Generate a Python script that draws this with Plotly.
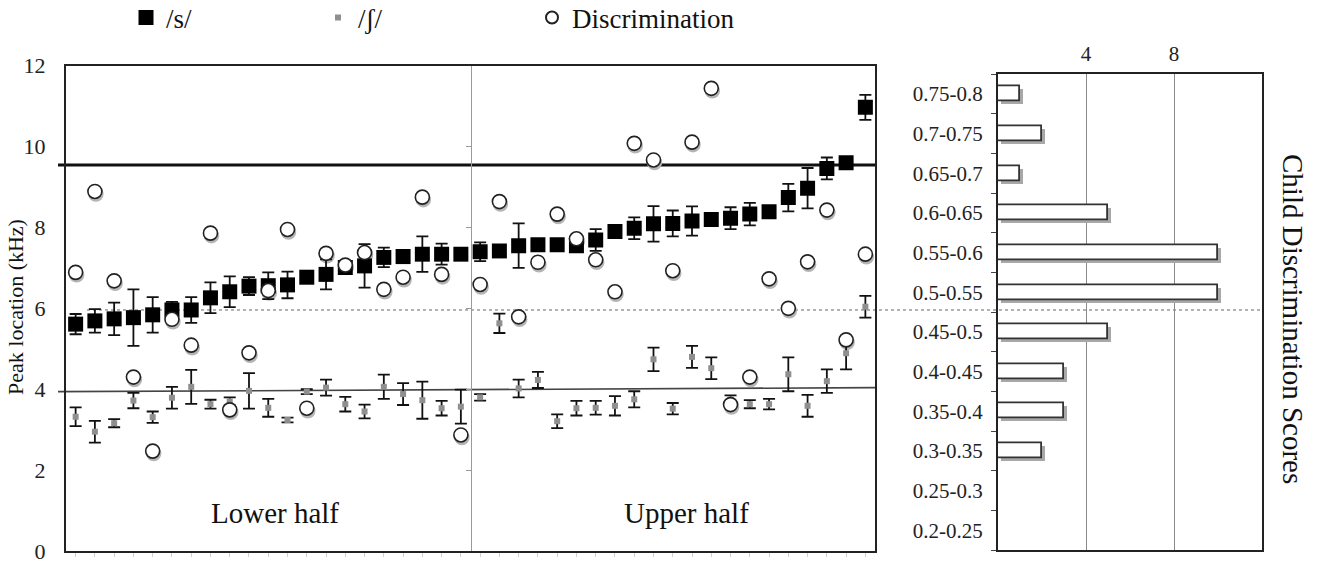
import plotly.graph_objects as go

# ---------------- data ----------------
child_idx = list(range(42))
s_peak = [5.61, 5.69, 5.74, 5.77, 5.84, 5.96, 5.96, 6.26, 6.41, 6.55,
          6.56, 6.58, 6.77, 6.84, 7.01, 7.05, 7.26, 7.28, 7.34, 7.34,
          7.34, 7.40, 7.42, 7.55, 7.57, 7.57, 7.55, 7.69, 7.90, 7.98,
          8.09, 8.10, 8.16, 8.20, 8.23, 8.33, 8.39, 8.74, 8.97, 9.46,
          9.60, 10.97]
s_err = [0.25, 0.29, 0.40, 0.70, 0.44, 0.20, 0.32, 0.38, 0.38, 0.22,
         0.33, 0.33, 0.10, 0.37, 0.10, 0.54, 0.24, 0.10, 0.44, 0.26,
         0.10, 0.23, 0.10, 0.55, 0.10, 0.10, 0.10, 0.27, 0.10, 0.27,
         0.44, 0.32, 0.36, 0.10, 0.27, 0.28, 0.10, 0.34, 0.50, 0.27,
         0.10, 0.31]
sh_peak = [3.32, 2.95, 3.16, 3.72, 3.31, 3.79, 4.06, 3.63, 3.70, 3.96,
           3.54, 3.24, 3.94, 4.04, 3.63, 3.45, 4.06, 3.88, 3.73, 3.53,
           3.57, 3.80, 5.63, 4.02, 4.23, 3.21, 3.53, 3.54, 3.59, 3.75,
           4.74, 3.52, 4.80, 4.52, 3.75, 3.63, 3.63, 4.37, 3.59, 4.20,
           4.89, 6.04]
sh_err = [0.23, 0.27, 0.10, 0.19, 0.14, 0.27, 0.42, 0.11, 0.10, 0.44,
          0.22, 0.06, 0.06, 0.20, 0.18, 0.17, 0.30, 0.27, 0.46, 0.18,
          0.42, 0.08, 0.24, 0.22, 0.20, 0.17, 0.18, 0.17, 0.24, 0.20,
          0.29, 0.14, 0.27, 0.27, 0.10, 0.10, 0.13, 0.42, 0.27, 0.29,
          0.40, 0.27]
discrimination = [6.89, 8.89, 6.68, 4.30, 2.47, 5.73, 5.09, 7.86, 3.49, 4.90,
                  6.44, 7.95, 3.53, 7.36, 7.07, 7.38, 6.47, 6.77, 8.75, 6.84,
                  2.87, 6.59, 8.64, 5.79, 7.14, 8.33, 7.72, 7.20, 6.41, 10.08,
                  9.67, 6.93, 10.11, 11.44, 3.62, 4.30, 6.73, 6.00, 7.15, 8.43,
                  5.22, 7.34]
y_ticks = [0, 2, 4, 6, 8, 10, 12]
half_labels = ["Lower half", "Upper half"]
half_label_x = [10.35, 31.7]
half_label_y = 0.94
thick_line_y = 9.545
sh_line_y = [3.94, 4.04]
dotted_line_y = 5.96

score_bins = ["0.2-0.25", "0.25-0.3", "0.3-0.35", "0.35-0.4", "0.4-0.45",
              "0.45-0.5", "0.5-0.55", "0.55-0.6", "0.6-0.65", "0.65-0.7",
              "0.7-0.75", "0.75-0.8"]
score_counts = [0, 0, 2, 3, 3, 5, 10, 10, 5, 1, 2, 1]
hist_ticks = [4, 8]

# ---------------- geometry ----------------
W, H = 1325, 563
FONT = "Liberation Serif, Times New Roman, serif"
L_x0, L_x1 = 66 / W, 875 / W
L_y0, L_y1 = (H - 551) / H, (H - 65.7) / H
R_x0, R_x1 = 998 / W, 1262 / W
R_y0, R_y1 = (H - 550) / H, (H - 74.3) / H
n = len(child_idx)
px_per_x = (875 - 66) / n
px_per_y = (551 - 65.7) / 12
div_pos = L_x0 + (L_x1 - L_x0) * (n / 2) / n

fig = go.Figure()

# circle shadows (base hidden axes x/y, shifted)
fig.add_trace(go.Scatter(
    x=child_idx, y=discrimination, mode="markers", xaxis="x", yaxis="y",
    marker=dict(symbol="circle", size=15.5, color="#b5b5b5", line=dict(width=0)),
    showlegend=False, hoverinfo="skip"))

# main traces on overlay axes x2/y2
fig.add_trace(go.Scatter(
    x=child_idx, y=s_peak, mode="markers", name="/s/", xaxis="x2", yaxis="y2",
    legend="legend",
    marker=dict(symbol="square", size=15, color="#000000"),
    error_y=dict(type="data", array=s_err, color="#111111", thickness=1.8, width=6)))
fig.add_trace(go.Scatter(
    x=child_idx, y=sh_peak, mode="markers", name="/ʃ/", xaxis="x2", yaxis="y2",
    legend="legend2",
    marker=dict(symbol="square", size=6, color="#8f8f8f"),
    error_y=dict(type="data", array=sh_err, color="#111111", thickness=1.8, width=6)))
fig.add_trace(go.Scatter(
    x=child_idx, y=discrimination, mode="markers", name="Discrimination",
    xaxis="x2", yaxis="y2", legend="legend3",
    marker=dict(symbol="circle", size=14, color="white", line=dict(color="#222222", width=1.6))))

# divider axis dummy trace
fig.add_trace(go.Scatter(x=[None], y=[None], xaxis="x2", yaxis="y3",
                         showlegend=False, hoverinfo="skip"))

# histogram shadow
bar_w = 0.38
fig.add_trace(go.Bar(
    y=score_bins, x=score_counts, orientation="h", xaxis="x4", yaxis="y4",
    width=bar_w, marker=dict(color="#a8a8a8", line=dict(width=0)),
    showlegend=False, hoverinfo="skip"))
fig.add_trace(go.Bar(
    y=score_bins, x=score_counts, orientation="h", xaxis="x5", yaxis="y5",
    width=bar_w, marker=dict(color="white", line=dict(color="#333333", width=1.8)),
    showlegend=False))

sx = 1.0 / px_per_x
sy = 2.5 / px_per_y
hx = 3.0 / ((1262 - 998) / 12)
hy = 3.0 / ((550 - 74.3) / 12)

axis_font = dict(family=FONT, size=22, color="#222222")
hist_font = dict(family=FONT, size=21, color="#222222")
leg_font = dict(family=FONT, size=27, color="#111111")


def leg(xpix, sizing="trace"):
    return dict(orientation="h", x=(xpix - 20) / W, y=(H - 18) / H,
                xanchor="left", yanchor="middle", font=leg_font,
                itemsizing=sizing, bgcolor="rgba(0,0,0,0)", borderwidth=0)


fig.update_layout(
    width=W, height=H, margin=dict(l=0, r=0, t=0, b=0, autoexpand=False),
    paper_bgcolor="white", plot_bgcolor="rgba(0,0,0,0)",
    font=dict(family=FONT, color="#111111"),
    bargap=0,
    showlegend=True,
    legend=leg(146),
    legend2=leg(338),
    legend3=leg(552, "constant"),
    # shadow base axes for left chart
    xaxis=dict(domain=[L_x0, L_x1], range=[-0.5 - sx, n - 0.5 - sx], visible=False,
               fixedrange=True),
    yaxis=dict(domain=[L_y0, L_y1], range=[0 + sy, 12 + sy], visible=False,
               fixedrange=True),
    xaxis2=dict(overlaying="x", domain=[L_x0, L_x1], range=[-0.5, n - 0.5], anchor="y2",
                showline=True, linecolor="#222222", linewidth=2, mirror=True,
                tickvals=child_idx, ticks="outside", ticklen=4, tickcolor="#d0d0d0",
                tickwidth=1, showticklabels=False, showgrid=False, zeroline=False,
                automargin=False),
    yaxis2=dict(overlaying="y", domain=[L_y0, L_y1], range=[0, 12], anchor="x2",
                side="left", showline=True, linecolor="#222222", linewidth=2, mirror=True,
                tickvals=y_ticks, ticks="", ticklabelstandoff=14,
                ticklabeloverflow="allow",
                tickfont=axis_font, showgrid=False, zeroline=False, automargin=False),
    yaxis3=dict(overlaying="y", domain=[L_y0, L_y1], range=[0, 12], anchor="free",
                position=div_pos, side="left", showline=True, linecolor="#9a9a9a",
                linewidth=1, tickvals=y_ticks[1:-1], ticks="outside", ticklen=5,
                tickcolor="#9a9a9a", showticklabels=False, showgrid=False,
                zeroline=False, automargin=False),
    # histogram
    xaxis4=dict(domain=[R_x0, R_x1], range=[0 - hx, 12 - hx], visible=False,
                anchor="y4", fixedrange=True),
    yaxis4=dict(domain=[R_y0, R_y1], range=[-0.5 + hy, len(score_bins) - 0.5 + hy],
                visible=False, anchor="x4", type="category",
                categoryorder="array", categoryarray=score_bins, fixedrange=True),
    xaxis5=dict(overlaying="x4", domain=[R_x0, R_x1], range=[0, 12], anchor="y5",
                side="top", tickvals=hist_ticks, ticks="", ticklabelstandoff=3,
                tickfont=hist_font, showgrid=True, gridcolor="#8a8a8a", gridwidth=1,
                showline=True, linecolor="#222222", linewidth=2, mirror=True,
                zeroline=False, automargin=False),
    yaxis5=dict(overlaying="y4", domain=[R_y0, R_y1],
                range=[-0.5, len(score_bins) - 0.5], anchor="x5", type="category",
                categoryorder="array", categoryarray=score_bins,
                tickson="boundaries", ticks="outside", ticklen=5, tickcolor="#444444",
                ticklabelstandoff=9, tickfont=hist_font, showline=True,
                linecolor="#222222", linewidth=2, mirror=True, showgrid=False,
                automargin=False),
)

# reference lines
fig.add_shape(type="line", xref="paper", yref="y2", x0=58 / W, x1=L_x1,
              y0=thick_line_y, y1=thick_line_y, line=dict(color="#111111", width=3),
              layer="below")
fig.add_shape(type="line", xref="paper", yref="y2", x0=58 / W, x1=L_x1,
              y0=sh_line_y[0], y1=sh_line_y[1], line=dict(color="#444444", width=1.6),
              layer="below")
fig.add_shape(type="line", xref="paper", yref="y2", x0=87 / W, x1=R_x1,
              y0=dotted_line_y, y1=dotted_line_y,
              line=dict(color="#666666", width=1, dash="dot"), layer="below")

# text
for lab, xv in zip(half_labels, half_label_x):
    fig.add_annotation(x=xv, y=half_label_y, xref="x2", yref="y2", text=lab,
                       showarrow=False, font=dict(family=FONT, size=29, color="#111111"))
fig.add_annotation(x=15 / W, y=(H - 307) / H, xref="paper", yref="paper",
                   xanchor="center", yanchor="middle",
                   text="Peak location (kHz)", textangle=-90, showarrow=False,
                   font=dict(family=FONT, size=22, color="#111111"))
fig.add_annotation(x=1293 / W, y=(H - 319) / H, xref="paper", yref="paper",
                   xanchor="center", yanchor="middle",
                   text="Child Discrimination Scores", textangle=90, showarrow=False,
                   font=dict(family=FONT, size=29, color="#111111"))

fig.write_html("out.html", config={"displayModeBar": False},
               post_script="document.body.style.margin='0px';")
